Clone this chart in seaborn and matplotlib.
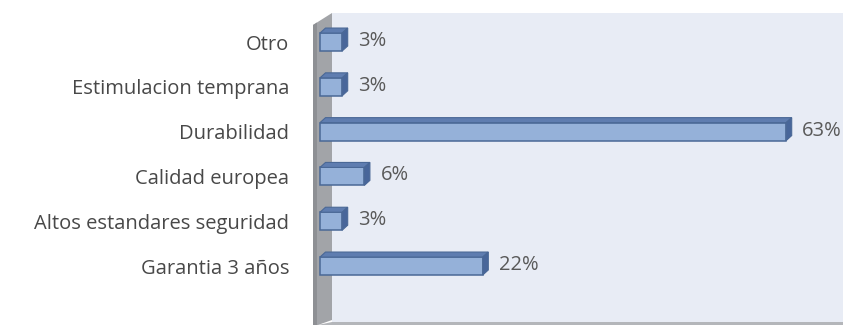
import matplotlib
matplotlib.use("Agg")
import matplotlib.pyplot as plt
from matplotlib.patches import Polygon, Rectangle
import seaborn as sns
import pandas as pd

categories = ["Otro", "Estimulacion temprana", "Durabilidad", "Calidad europea",
              "Altos estandares seguridad", "Garantia 3 años"]
values = [3, 3, 63, 6, 3, 22]
labels = ["3%", "3%", "63%", "6%", "3%", "22%"]

df = pd.DataFrame({"categoria": categories, "pct": values})

sns.set_theme(style="white")
plt.rcParams["font.family"] = ["Open Sans", "DejaVu Sans"]

W, H, DPI = 848, 327, 100
fig = plt.figure(figsize=(W / DPI, H / DPI), dpi=DPI)
fig.patch.set_facecolor("white")

# axes box in pixels: left wall edge to right of plot area
ax_l, ax_r, ax_t, ax_b = 313, 843, 13, 325
ax = fig.add_axes([ax_l / W, 1 - ax_b / H, (ax_r - ax_l) / W, (ax_b - ax_t) / H])
ax.set_facecolor("none")

front = "#95B1D9"
edge = "#4A6896"
top_face = "#5F7DB0"
side_face = "#48669A"

sns.barplot(data=df, x="pct", y="categoria", orient="h", ax=ax,
            color=front, saturation=1, width=0.40, edgecolor=edge, linewidth=1.1,
            zorder=3)

px_per_unit = 7.4
x0_px = 320
ax.set_xlim(-(x0_px - ax_l) / px_per_unit, (ax_r - x0_px) / px_per_unit)
row_px = 44.8
first_px = 42
ax.set_ylim(5 + (ax_b - (first_px + 5 * row_px)) / row_px, -(first_px - ax_t) / row_px)

# background panel and the slanted left wall, in axes fraction
aw = ax_r - ax_l
ah = ax_b - ax_t
def fx(px):
    return (px - ax_l) / aw
def fy(py):
    return (ax_b - py) / ah

ax.add_patch(Rectangle((fx(332), fy(322)), 1 - fx(332), fy(13) - fy(322),
                       transform=ax.transAxes, facecolor="#E8ECF5",
                       edgecolor="none", zorder=0))
ax.add_patch(Polygon([(fx(332), fy(322)), (1.0, fy(322)), (1.0, fy(325)), (fx(318), fy(325))],
                     closed=True, transform=ax.transAxes, facecolor="#B4B6BA",
                     edgecolor="none", zorder=1))
ax.add_patch(Polygon([(fx(313), fy(25)), (fx(332), fy(13)), (fx(332), fy(320)),
                      (fx(318), fy(325)), (fx(313), fy(325))],
                     closed=True, transform=ax.transAxes, facecolor="#A2A4A8",
                     edgecolor="none", zorder=1))
ax.add_patch(Polygon([(fx(313), fy(25)), (fx(317), fy(22.5)), (fx(317), fy(325)), (fx(313), fy(325))],
                     closed=True, transform=ax.transAxes, facecolor="#8E9094",
                     edgecolor="none", zorder=1))

# 3-D depth faces on every bar
dx = 5.5 / px_per_unit
dy = 5.0 / row_px
for bar in list(ax.patches):
    if bar.get_zorder() != 3:
        continue
    x = bar.get_x()
    w = bar.get_width()
    y = bar.get_y()
    h = bar.get_height()
    y_top = y  # y axis inverted: smaller value is visually higher
    ax.add_patch(Polygon([(x, y_top), (x + dx, y_top - dy), (x + w + dx, y_top - dy), (x + w, y_top)],
                         closed=True, facecolor=top_face, edgecolor=edge, linewidth=0.8, zorder=4))
    ax.add_patch(Polygon([(x + w, y_top), (x + w + dx, y_top - dy), (x + w + dx, y + h - dy), (x + w, y + h)],
                         closed=True, facecolor=side_face, edgecolor=edge, linewidth=0.8, zorder=4))

for i, (v, lab) in enumerate(zip(values, labels)):
    ax.annotate(lab, xy=(v, i), xytext=(16, 1), textcoords="offset pixels",
                ha="left", va="center", fontsize=14.5, color="#595959", zorder=5)

ax.set_xlabel("")
ax.set_ylabel("")
ax.set_xticks([])
ax.tick_params(axis="y", length=0, pad=17, labelsize=14.5, labelcolor="#484848")
for s in ax.spines.values():
    s.set_visible(False)

fig.savefig("out.png", dpi=DPI, facecolor="white")
